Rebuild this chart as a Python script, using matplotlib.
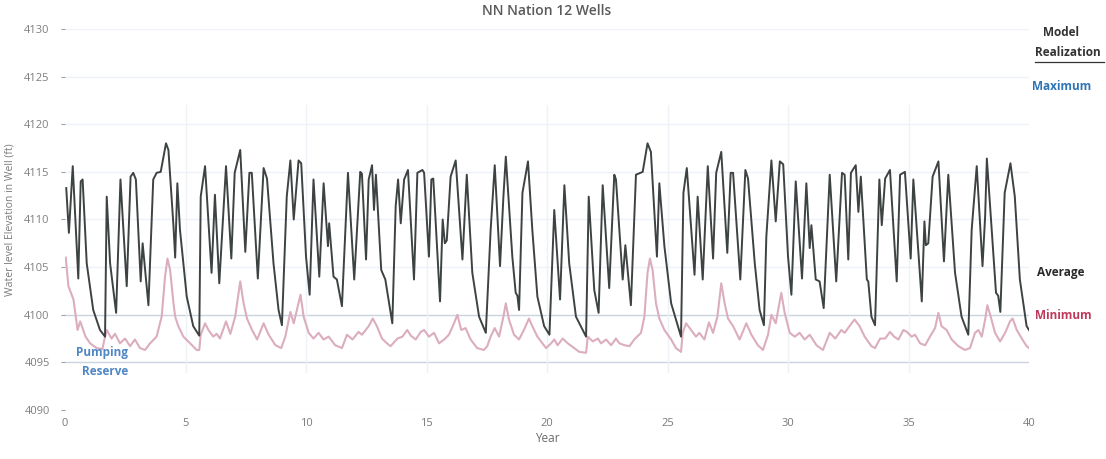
import matplotlib.pyplot as plt
from matplotlib.lines import Line2D

# average realization (dark line)
avg_year = [0.05, 0.16, 0.32, 0.55, 0.65, 0.73, 0.90, 1.17, 1.45, 1.66, 1.73, 1.87, 2.12, 2.30, 2.56, 2.72, 2.83, 2.94,
            3.14, 3.22, 3.46, 3.66, 3.80, 3.97, 4.19, 4.29, 4.50, 4.57, 4.66, 4.77, 5.05, 5.32, 5.57, 5.63, 5.81,
            6.08, 6.22, 6.40, 6.68, 6.90, 7.04, 7.27, 7.48, 7.65, 7.75, 8.00, 8.24, 8.38, 8.65, 8.86, 9.00, 9.20,
            9.35, 9.49, 9.69, 9.80, 10.00, 10.15, 10.31, 10.55, 10.73, 10.91, 10.96, 11.14, 11.28, 11.49, 11.74,
            12.00, 12.25, 12.32, 12.49, 12.60, 12.74, 12.82, 12.90, 13.12, 13.29, 13.58, 13.72, 13.82, 13.93,
            14.07, 14.23, 14.48, 14.62, 14.83, 14.90, 15.10, 15.20, 15.28, 15.56, 15.67, 15.76, 15.84, 16.00,
            16.21, 16.49, 16.67, 16.90, 17.18, 17.46, 17.66, 17.83, 18.05, 18.19, 18.29, 18.56, 18.70, 18.77,
            18.84, 18.98, 19.21, 19.39, 19.60, 19.88, 20.10, 20.30, 20.54, 20.72, 20.92, 21.20, 21.62, 21.73,
            21.96, 22.14, 22.31, 22.58, 22.79, 22.86, 23.14, 23.25, 23.48, 23.69, 23.97, 24.17, 24.31, 24.56,
            24.66, 24.87, 25.15, 25.56, 25.66, 25.80, 26.12, 26.25, 26.46, 26.67, 26.89, 27.02, 27.23, 27.48,
            27.62, 27.72, 28.02, 28.23, 28.34, 28.62, 28.82, 29.00, 29.10, 29.31, 29.49, 29.66, 29.80, 30.00,
            30.14, 30.32, 30.58, 30.76, 30.90, 30.97, 31.15, 31.31, 31.48, 31.73, 32.00, 32.24, 32.35, 32.50,
            32.61, 32.81, 32.92, 33.02, 33.27, 33.33, 33.46, 33.61, 33.79, 33.89, 34.03, 34.23, 34.51, 34.65,
            34.85, 35.09, 35.20, 35.55, 35.66, 35.72, 35.82, 36.00, 36.24, 36.47, 36.65, 36.93, 37.20, 37.48,
            37.62, 37.83, 38.07, 38.18, 38.25, 38.45, 38.63, 38.72, 38.81, 38.99, 39.23, 39.41, 39.62, 39.90, 40.00]
avg_level = [4113.3, 4108.6, 4115.6, 4103.8, 4114.0, 4114.2, 4105.4, 4100.5, 4098.4, 4097.7, 4112.4, 4105.4, 4100.2,
             4114.2, 4103.0, 4114.5, 4114.9, 4114.2, 4103.5, 4107.5, 4101.0, 4114.2, 4114.9, 4115.0, 4118.0, 4117.3,
             4109.3, 4106.0, 4113.8, 4108.9, 4101.9, 4098.8, 4097.8, 4112.4, 4115.6, 4104.4, 4112.6, 4103.3, 4115.6,
             4105.9, 4114.9, 4117.3, 4106.6, 4114.9, 4114.9, 4103.8, 4115.4, 4114.3, 4105.4, 4100.5, 4098.9, 4112.4,
             4116.2, 4110.0, 4116.2, 4115.9, 4106.1, 4102.1, 4114.2, 4104.0, 4113.8, 4107.2, 4109.6, 4104.0, 4103.7,
             4100.9, 4114.9, 4103.7, 4115.0, 4114.8, 4105.8, 4114.2, 4115.7, 4111.0, 4114.7, 4104.7, 4103.7, 4099.1,
             4111.4, 4114.2, 4109.6, 4114.2, 4115.2, 4103.7, 4114.9, 4115.2, 4114.9, 4106.1, 4114.2, 4114.3, 4101.4,
             4110.0, 4107.5, 4107.8, 4114.5, 4116.2, 4105.8, 4114.7, 4104.4, 4099.8, 4098.1, 4108.9, 4115.7, 4105.1,
             4112.4, 4116.6, 4106.1, 4102.3, 4102.0, 4100.5, 4112.8, 4116.1, 4108.9, 4101.9, 4098.8, 4097.9, 4111.0,
             4101.6, 4113.6, 4105.4, 4099.8, 4097.7, 4112.4, 4102.6, 4100.2, 4113.6, 4102.8, 4114.7, 4114.2, 4103.7,
             4107.3, 4101.0, 4114.7, 4115.0, 4118.0, 4117.1, 4106.1, 4113.8, 4107.2, 4101.2, 4097.7, 4112.8, 4115.4,
             4104.2, 4112.4, 4103.7, 4115.6, 4105.9, 4114.9, 4117.1, 4106.5, 4114.9, 4114.9, 4103.7, 4115.2, 4114.3,
             4105.4, 4100.5, 4098.9, 4108.2, 4116.2, 4109.8, 4116.1, 4115.8, 4106.1, 4102.1, 4114.0, 4103.8, 4113.8,
             4107.0, 4109.4, 4103.7, 4103.5, 4100.7, 4114.7, 4103.5, 4114.9, 4114.7, 4105.8, 4114.9, 4115.7, 4110.8,
             4114.5, 4103.7, 4103.5, 4099.8, 4098.9, 4114.2, 4109.4, 4114.3, 4115.2, 4103.5, 4114.7, 4115.0, 4105.9,
             4114.2, 4101.4, 4109.8, 4107.3, 4107.5, 4114.5, 4116.1, 4105.6, 4114.7, 4104.4, 4099.8, 4097.9, 4108.9,
             4115.6, 4105.1, 4110.4, 4116.4, 4108.9, 4102.3, 4102.0, 4100.3, 4112.8, 4115.9, 4112.4, 4103.7, 4098.8,
             4098.4]

# minimum realization (pink line)
min_year = [0.03, 0.14, 0.35, 0.52, 0.63, 0.85, 1.04, 1.31, 1.55, 1.66, 1.73, 1.93, 2.07, 2.28, 2.49, 2.70, 2.90, 3.11,
            3.32, 3.53, 3.80, 4.01, 4.15, 4.25, 4.36, 4.50, 4.57, 4.70, 4.91, 5.19, 5.46, 5.57, 5.63, 5.81, 5.95,
            6.15, 6.29, 6.43, 6.68, 6.86, 7.06, 7.27, 7.41, 7.55, 7.76, 7.97, 8.24, 8.45, 8.73, 8.97, 9.14, 9.35,
            9.49, 9.77, 9.90, 10.11, 10.31, 10.52, 10.73, 10.94, 11.21, 11.49, 11.70, 11.93, 12.18, 12.32, 12.60,
            12.77, 12.94, 13.15, 13.36, 13.51, 13.79, 14.00, 14.20, 14.35, 14.55, 14.76, 14.90, 15.10, 15.31,
            15.52, 15.73, 15.93, 16.14, 16.28, 16.44, 16.62, 16.83, 17.10, 17.38, 17.52, 17.66, 17.83, 18.01,
            18.19, 18.29, 18.42, 18.63, 18.84, 19.04, 19.25, 19.39, 19.60, 19.81, 19.96, 20.17, 20.30, 20.44,
            20.65, 20.86, 21.13, 21.34, 21.62, 21.69, 21.90, 22.11, 22.24, 22.45, 22.66, 22.86, 23.00, 23.21,
            23.42, 23.62, 23.90, 24.04, 24.17, 24.27, 24.38, 24.52, 24.66, 24.87, 25.15, 25.35, 25.56, 25.63,
            25.77, 25.98, 26.18, 26.32, 26.53, 26.72, 26.89, 27.07, 27.23, 27.37, 27.51, 27.72, 27.99, 28.27,
            28.48, 28.75, 28.96, 29.17, 29.31, 29.49, 29.72, 29.86, 30.07, 30.28, 30.48, 30.69, 30.90, 31.18,
            31.45, 31.73, 31.96, 32.21, 32.35, 32.55, 32.76, 32.97, 33.18, 33.46, 33.61, 33.82, 34.03, 34.23,
            34.40, 34.58, 34.79, 34.93, 35.13, 35.27, 35.48, 35.69, 35.89, 36.10, 36.24, 36.37, 36.58, 36.79,
            37.07, 37.34, 37.55, 37.76, 37.90, 38.04, 38.18, 38.27, 38.41, 38.59, 38.80, 39.01, 39.21, 39.32,
            39.49, 39.70, 39.90, 40.00]
min_level = [4106.0, 4103.0, 4101.6, 4098.4, 4099.3, 4097.7, 4097.0, 4096.5, 4096.4, 4097.7, 4098.4, 4097.5, 4098.0,
             4097.0, 4097.5, 4096.7, 4097.4, 4096.5, 4096.3, 4097.0, 4097.7, 4099.8, 4104.0, 4105.9, 4104.7, 4101.2,
             4099.8, 4098.8, 4097.7, 4097.0, 4096.3, 4096.3, 4097.9, 4099.1, 4098.4, 4097.7, 4098.0, 4097.5, 4099.3,
             4098.0, 4099.8, 4103.5, 4101.2, 4099.6, 4098.4, 4097.4, 4099.1, 4097.9, 4096.8, 4096.5, 4097.7, 4100.3,
             4099.1, 4102.1, 4099.8, 4098.1, 4097.5, 4098.1, 4097.4, 4097.7, 4096.8, 4096.5, 4097.9, 4097.4, 4098.2,
             4097.9, 4098.8, 4099.6, 4098.8, 4097.5, 4097.0, 4096.7, 4097.5, 4097.7, 4098.4, 4097.8, 4097.4, 4098.2,
             4098.4, 4097.7, 4098.1, 4097.0, 4097.4, 4097.9, 4099.1, 4100.0, 4098.4, 4098.6, 4097.4, 4096.5, 4096.3,
             4096.7, 4097.7, 4098.6, 4097.7, 4099.8, 4101.2, 4099.5, 4097.9, 4097.4, 4098.4, 4099.6, 4098.8, 4097.7,
             4097.0, 4096.5, 4097.0, 4097.4, 4096.8, 4097.5, 4097.0, 4096.5, 4096.1, 4096.0, 4097.7, 4097.2, 4097.5,
             4097.0, 4097.4, 4096.8, 4097.5, 4097.0, 4096.8, 4096.7, 4097.4, 4098.1, 4099.8, 4104.4, 4105.9, 4104.7,
             4101.2, 4099.6, 4098.4, 4097.4, 4096.5, 4096.1, 4098.1, 4099.1, 4098.4, 4097.7, 4098.1, 4097.4, 4099.2,
             4098.1, 4099.8, 4103.3, 4101.2, 4099.6, 4098.8, 4097.4, 4099.1, 4097.9, 4096.8, 4096.3, 4097.9, 4100.0,
             4099.1, 4102.3, 4100.2, 4098.1, 4097.7, 4098.1, 4097.4, 4097.9, 4096.8, 4096.3, 4098.1, 4097.5, 4098.4,
             4098.1, 4098.8, 4099.5, 4098.8, 4097.7, 4096.7, 4096.5, 4097.5, 4097.5, 4098.2, 4097.7, 4097.4, 4098.4,
             4098.2, 4097.7, 4097.9, 4097.0, 4096.8, 4097.7, 4098.6, 4100.2, 4098.8, 4098.4, 4097.4, 4096.7, 4096.3,
             4096.5, 4098.1, 4098.4, 4097.7, 4099.5, 4101.0, 4099.8, 4098.1, 4097.2, 4098.1, 4099.3, 4099.6, 4098.4,
             4097.5, 4096.7, 4096.5]

x_ticks = [0, 5, 10, 15, 20, 25, 30, 35, 40]
y_ticks = [4090, 4095, 4100, 4105, 4110, 4115, 4120, 4125, 4130]

plt.rcParams["font.family"] = ["Open Sans", "DejaVu Sans"]

fig = plt.figure(figsize=(11.06, 4.59), dpi=100)
ax = fig.add_axes([0.0588, 0.1068, 0.8716, 0.8300])

for y in y_ticks:
    c = "#c9d3e0" if y in (4095, 4100) else "#eef1f5"
    ax.axhline(y, color=c, linewidth=1, zorder=0)
for x in x_ticks[1:-1]:
    ax.plot([x, x], [4094, 4122], color="#eef1f6", linewidth=1, zorder=0)

ax.plot(min_year, min_level, color="#dbadbf", linewidth=1.5, zorder=2)
ax.plot(avg_year, avg_level, color="#3d4242", linewidth=1.4, zorder=3)

ax.set_xlim(0, 40)
ax.set_ylim(4090, 4130)
ax.set_xticks(x_ticks)
ax.set_yticks(y_ticks)
for s in ax.spines.values():
    s.set_visible(False)
ax.tick_params(axis="x", length=0, labelsize=8, colors="#7a7a7a", pad=6)
ax.tick_params(axis="y", length=3, labelsize=8, colors="#a0a0a0", labelcolor="#7f7f7f", pad=8)

ax.set_xlabel("Year", fontsize=8.5, color="#6a6a6a", labelpad=2)
ax.set_ylabel("Water level Elevation in Well (ft)", fontsize=7.5, color="#7a7a7a", labelpad=6)
ax.set_title("NN Nation 12 Wells", fontsize=10, fontweight="semibold", color="#5a5a5a", pad=10)

ax.text(1.55, 4096.0, "Pumping", fontsize=8.5, fontweight="bold", color="#4f86c6", ha="center", va="center")
ax.text(1.65, 4094.0, "Reserve", fontsize=8.5, fontweight="bold", color="#4f86c6", ha="center", va="center")

fig.text(0.943, 0.930, "Model", fontsize=8.5, fontweight="bold", color="#333333", ha="left", va="center")
fig.text(0.936, 0.886, "Realization", fontsize=8.5, fontweight="bold", color="#333333", ha="left", va="center")
fig.add_artist(Line2D([0.936, 0.998], [0.866, 0.866], color="#333333", linewidth=0.9))
fig.text(0.933, 0.812, "Maximum", fontsize=8.5, fontweight="bold", color="#2e75b6", ha="left", va="center")
fig.text(0.938, 0.407, "Average", fontsize=8.5, fontweight="bold", color="#2a2a2a", ha="left", va="center")
fig.text(0.936, 0.313, "Minimum", fontsize=8.5, fontweight="bold", color="#c0395c", ha="left", va="center")

plt.savefig("out.png", dpi=100)
